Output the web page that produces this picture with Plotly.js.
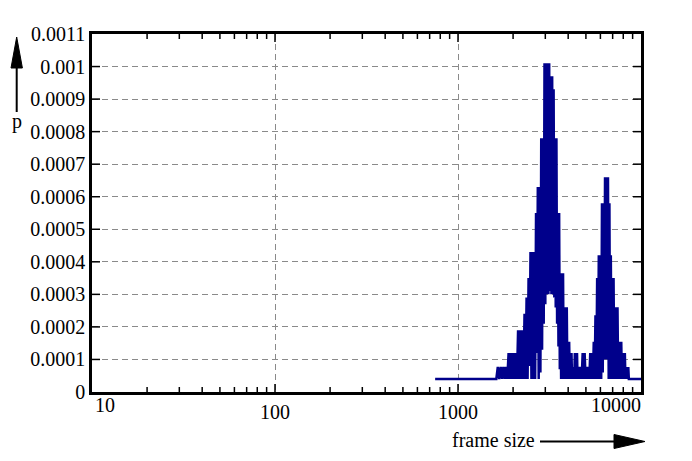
<!DOCTYPE html>
<html>
<head>
<meta charset="utf-8">
<script src="https://cdn.plot.ly/plotly-3.0.1.min.js"></script>
<style>
  html, body { margin: 0; padding: 0; background: #fff; }
  #graph { width: 692px; height: 461px; }
</style>
</head>
<body>
<div id="graph"></div>
<script>
/* ----- Data ---------------------------- */

// frame sizes (bytes) of the histogram points
var frameSize = [
    750,
    1620, 1650, 1680, 1710, 1740, 1770, 1800, 1830, 1860, 1890,
    1920, 1950, 1980, 2010, 2040, 2070, 2100, 2130, 2160, 2190,
    2220, 2250, 2280, 2310, 2340, 2370, 2400, 2430, 2460, 2490,
    2520, 2550, 2580, 2610, 2640, 2670, 2700, 2730, 2760, 2790,
    2820, 2850, 2880, 2910, 2940, 2970, 3000, 3030, 3060, 3090,
    3120, 3150, 3180, 3210, 3240, 3270, 3300, 3330, 3360, 3390,
    3420, 3450, 3480, 3510, 3540, 3570, 3600, 3630, 3660, 3690,
    3720, 3750, 3780, 3810, 3840, 3870, 3900, 3930, 3960, 3990,
    4020, 4050, 4080, 4110, 4140, 4170, 4200, 4230, 4260, 4290,
    4320, 4350, 4380, 4410, 4440, 4470, 4500,
    4560, 4620, 4680, 4740, 4800, 4860, 4920, 4980, 5040, 5100,
    5160, 5220, 5280, 5340, 5400, 5460, 5520, 5580, 5640, 5700,
    5760, 5820, 5880, 5940, 6000, 6060, 6120, 6180, 6240, 6300,
    6360, 6420, 6480, 6540, 6600, 6660, 6720, 6780, 6840, 6900,
    6960, 7020, 7080, 7140, 7200, 7260, 7320, 7380, 7440, 7500,
    7560, 7620, 7680, 7740, 7800, 7860, 7920, 7980, 8040, 8100,
    8160, 8220, 8280, 8340, 8400, 8460, 8520, 8580,
    10500
];

// probability p of each frame size
var prob = [
    0.00004,
    0.00004, 0.000077, 0.00004, 0.000077, 0.00004, 0.000077, 0.00004, 0.000077, 0.00004, 0.00012,
    0.00004, 0.00012, 0.00004, 0.00012, 0.00004, 0.00012, 0.00004, 0.00019, 0.00004, 0.00019,
    0.00004, 0.00019, 0.00004, 0.00024, 0.00004, 0.00029, 0.00004, 0.00035, 0.00008, 0.00043,
    0.00004, 0.00043, 0.00004, 0.00043, 0.00004, 0.00055, 0.00012, 0.00063, 0.00004, 0.00063,
    0.00006, 0.00078, 0.00013, 0.00078, 0.00021, 0.00101, 0.00027, 0.00101, 0.0003, 0.00101,
    0.0003, 0.00101, 0.00031, 0.00097, 0.0003, 0.00097, 0.0003, 0.00093, 0.00029, 0.00078,
    0.00026, 0.00078, 0.00021, 0.00055, 0.00014, 0.00055, 0.00007, 0.000365, 0.00004, 0.000365,
    0.00004, 0.000365, 0.00004, 0.00026, 0.00004, 0.00026, 0.00004, 0.00026, 0.00004, 0.000154,
    0.00004, 0.000154, 0.00004, 0.00012, 0.00004, 0.00012, 0.00004, 0.000077, 0.00004, 0.000077,
    0.00004, 0.00012, 0.00004, 0.00012, 0.00004, 0.00012, 0.00004,
    0.000077, 0.00004, 0.000077, 0.00004, 0.00012, 0.00004, 0.00012, 0.00004, 0.000077, 0.00004,
    0.000077, 0.00004, 0.00012, 0.00004, 0.00012, 0.00004, 0.000154, 0.00004, 0.000236, 0.00004,
    0.00035, 0.00004, 0.00042, 0.00004, 0.00042, 0.00004, 0.00058, 0.00006, 0.00058, 0.0001,
    0.00066, 0.0001, 0.00066, 0.0001, 0.00066, 0.00004, 0.00058, 0.00004, 0.00042, 0.00004,
    0.00035, 0.00004, 0.00035, 0.00004, 0.00026, 0.00004, 0.00026, 0.00004, 0.00026, 0.00004,
    0.000154, 0.00004, 0.000154, 0.00004, 0.000154, 0.00004, 0.00012, 0.00004, 0.00012, 0.00004,
    0.00012, 0.00004, 0.000077, 0.00004, 0.000077, 0.00004, 0.000077, 0.00004,
    0.00004
];

var xTickVals = [10, 100, 1000, 10000];
var xTickText = ['', '100', '1000', ''];
var xMinorVals = [20, 30, 40, 50, 60, 70, 80, 90,
                  200, 300, 400, 500, 600, 700, 800, 900,
                  2000, 3000, 4000, 5000, 6000, 7000, 8000, 9000];
var yTickVals = [0, 0.0001, 0.0002, 0.0003, 0.0004, 0.0005, 0.0006,
                 0.0007, 0.0008, 0.0009, 0.001, 0.0011];
var yTickText = ['0', '0.0001', '0.0002', '0.0003', '0.0004', '0.0005', '0.0006',
                 '0.0007', '0.0008', '0.0009', '0.001', '0.0011'];

/* ------ Layout helpers ------- */

var W = 692, H = 461;
var margin = {l: 92, r: 51, t: 34, b: 69};
var plotW = W - margin.l - margin.r;
var plotH = H - margin.t - margin.b;
var xRange = [1, 4];

// pixel position on the page -> paper coordinates
function px(x) { return (x - margin.l) / plotW; }
function py(y) { return (H - margin.b - y) / plotH; }
// frame size on the log axis -> paper x
function logPaper(v) { return (Math.log10(v) - xRange[0]) / (xRange[1] - xRange[0]); }

var serifFamily = '"Liberation Serif", "Times New Roman", serif';
var serif = {family: serifFamily, size: 20, color: 'black'};
var navy = '#00008b';

var trace = {
    x: frameSize,
    y: prob,
    mode: 'lines',
    line: {color: navy, width: 2.5},
    hoverinfo: 'x+y'
};

/* ------ Inside tick marks on all four sides ------- */

var tickShapes = [];
function tickLine(x0, y0, x1, y1) {
    tickShapes.push({type: 'line', xref: 'paper', yref: 'paper', layer: 'above',
                     x0: x0, y0: y0, x1: x1, y1: y1,
                     line: {color: 'black', width: 1.5}});
}
xMinorVals.forEach(function(v) {
    var xp = logPaper(v);
    tickLine(xp, 0, xp, 5 / plotH);
    tickLine(xp, 1, xp, 1 - 5 / plotH);
});
xTickVals.slice(1, -1).forEach(function(v) {
    var xp = logPaper(v);
    tickLine(xp, 0, xp, 8 / plotH);
    tickLine(xp, 1, xp, 1 - 8 / plotH);
});
yTickVals.slice(1, -1).forEach(function(v) {
    tickShapes.push({type: 'line', xref: 'paper', yref: 'y', layer: 'above',
                     x0: 0, y0: v, x1: 8 / plotW, y1: v,
                     line: {color: 'black', width: 1.5}});
    tickShapes.push({type: 'line', xref: 'paper', yref: 'y', layer: 'above',
                     x0: 1, y0: v, x1: 1 - 8 / plotW, y1: v,
                     line: {color: 'black', width: 1.5}});
});

var arrowShapes = [
    // y axis arrow
    {type: 'line', xref: 'paper', yref: 'paper',
     x0: px(16.7), y0: py(112), x1: px(16.7), y1: py(62),
     line: {color: 'black', width: 2}},
    {type: 'path', xref: 'paper', yref: 'paper',
     path: 'M' + px(11) + ',' + py(68) + ' L' + px(16.7) + ',' + py(37) +
           ' L' + px(22.4) + ',' + py(68) + ' Z',
     fillcolor: 'black', line: {color: 'black', width: 1}},
    // x axis arrow
    {type: 'line', xref: 'paper', yref: 'paper',
     x0: px(540), y0: py(441.5), x1: px(620), y1: py(441.5),
     line: {color: 'black', width: 2}},
    {type: 'path', xref: 'paper', yref: 'paper',
     path: 'M' + px(614) + ',' + py(434.5) + ' L' + px(645) + ',' + py(441.5) +
           ' L' + px(614) + ',' + py(448.5) + ' Z',
     fillcolor: 'black', line: {color: 'black', width: 1}}
];

var layout = {
    width: W,
    height: H,
    showlegend: false,
    margin: margin,
    font: {family: serifFamily, size: 20},
    xaxis: {
        type: 'log',
        range: xRange,
        tickmode: 'array',
        tickvals: xTickVals,
        ticktext: xTickText,
        ticks: '',
        showline: true,
        linecolor: 'black',
        linewidth: 2.5,
        mirror: true,
        showgrid: true,
        gridcolor: '#8a8a8a',
        griddash: '6px,4px',
        zeroline: false,
        tickfont: serif
    },
    yaxis: {
        range: [0, 0.0011],
        tickmode: 'array',
        tickvals: yTickVals,
        ticktext: yTickText,
        ticks: '',
        showline: true,
        linecolor: 'black',
        linewidth: 2.5,
        mirror: true,
        showgrid: true,
        gridcolor: '#8a8a8a',
        griddash: '6px,4px',
        zeroline: false,
        tickfont: serif
    },
    annotations: [
        {xref: 'paper', yref: 'paper', x: px(93), y: py(405), xanchor: 'left', yanchor: 'middle',
         text: '10', showarrow: false, font: serif},
        {xref: 'paper', yref: 'paper', x: px(643), y: py(405), xanchor: 'right', yanchor: 'middle',
         text: '10000', showarrow: false, font: serif},
        {xref: 'paper', yref: 'paper', x: px(17), y: py(122), xanchor: 'center', yanchor: 'middle',
         text: 'p', showarrow: false, font: serif},
        {xref: 'paper', yref: 'paper', x: px(450), y: py(440), xanchor: 'left', yanchor: 'middle',
         text: 'frame size', showarrow: false, font: serif}
    ],
    shapes: tickShapes.concat(arrowShapes)
};

var graph = document.getElementById('graph');
Plotly.newPlot(graph, [trace], layout, {displayModeBar: false});
</script>
</body>
</html>
